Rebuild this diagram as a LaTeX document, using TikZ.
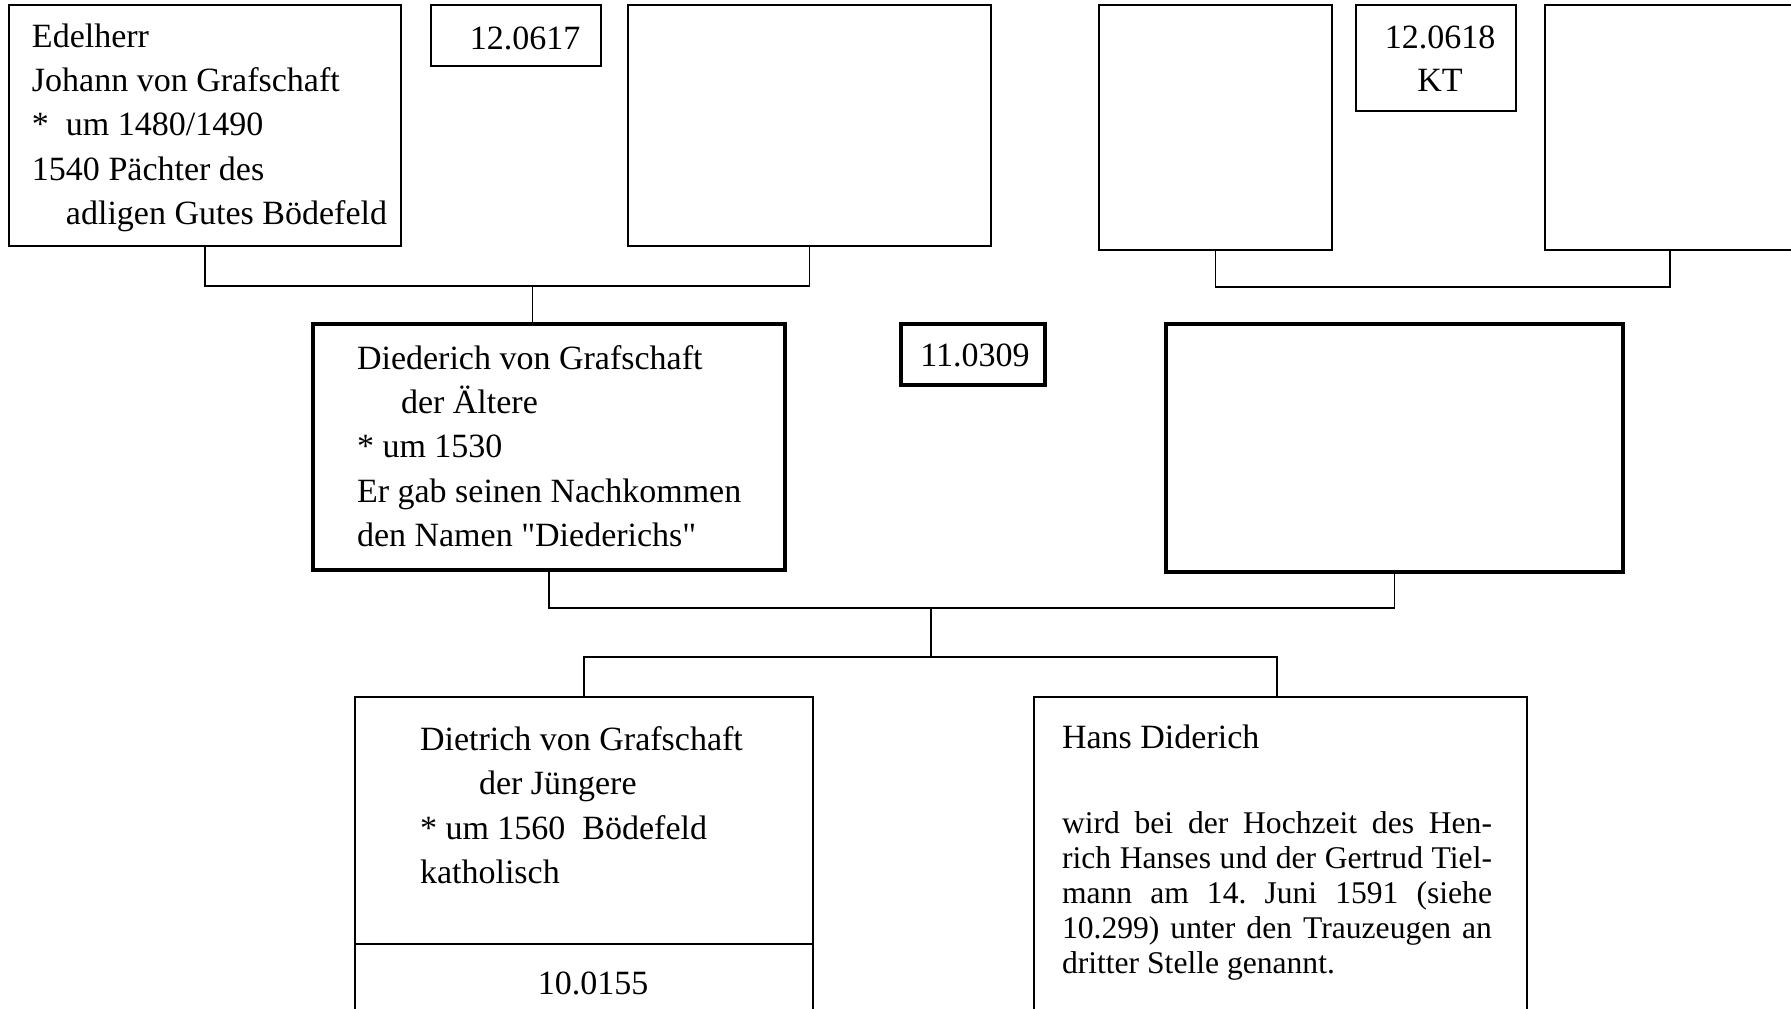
\documentclass[tikz,border=0pt]{standalone}
\usepackage{fontspec}
\setmainfont{Liberation Serif}[Ligatures=TeXOff]
\frenchspacing
\begin{document}
\begin{tikzpicture}[x=0.5pt,y=-0.5pt,
  box/.style={draw,line width=0.8pt,inner sep=0pt,outer sep=0pt},
  thickbox/.style={draw,line width=2pt,inner sep=0pt,outer sep=0pt},
  link/.style={line width=0.8pt},
  txt/.style={inner sep=0pt,outer sep=0pt,anchor=base west,align=left,font=\fontsize{17}{22.15}\selectfont},
  num/.style={inner sep=0pt,outer sep=0pt,anchor=base,align=center,font=\fontsize{17}{21.7}\selectfont},
  note/.style={inner sep=0pt,outer sep=0pt,anchor=base west,align=left,font=\fontsize{15.8}{17.5}\selectfont}]
\useasboundingbox (0,0) rectangle (1791,1008);
\clip (0,0) rectangle (1791,1008);

% generation of the grandparents
\node[box,minimum width=196pt,minimum height=120.5pt] (A) at (205,125.5) {};
\node[box,minimum width=85pt,minimum height=30.5pt] (nA) at (516,35.5) {};
\node[box,minimum width=181.5pt,minimum height=120.5pt] (C) at (809.5,125.5) {};
\node[box,minimum width=116.5pt,minimum height=122.5pt] (D) at (1215.5,127.5) {};
\node[box,minimum width=80pt,minimum height=53pt] (nD) at (1436,58) {};
\node[box,minimum width=177.5pt,minimum height=122.5pt] (E) at (1722.5,127.5) {};

% multi-line texts are placed by the baseline of their last line
\node[txt] (tA) at (32,224.5) {Edelherr\\Johann von Grafschaft\\\makebox[17pt][l]{*}um 1480/1490\\1540 Pächter des\\\hspace*{17pt}adligen Gutes Bödefeld};
\node[num] (tnA) at (525,49.5) {12.0617};
\node[num] (tnD) at (1440,91.7) {12.0618\\KT};

% generation of the parents
\node[thickbox,minimum width=236pt,minimum height=123pt] (B) at (549,447) {};
\node[thickbox,minimum width=72pt,minimum height=30.5pt] (nB) at (973,354.5) {};
\node[thickbox,minimum width=228.5pt,minimum height=124pt] (F) at (1394.5,448) {};

\node[txt] (tB) at (357,546.5) {Diederich von Grafschaft\\\hspace*{22pt}der Ältere\\* um 1530\\Er gab seinen Nachkommen\\den Namen "Diederichs"};
\node[num] (tnB) at (975,366.7) {11.0309};

% generation of the children
\node[box,minimum width=229pt,minimum height=201.5pt] (G) at (584,898.5) {};
\node[box,minimum width=246.5pt,minimum height=201.5pt] (H) at (1280.5,898.5) {};
\coordinate (div) at (0,944);
\draw[link] (G.west |- div) -- (G.east |- div);

\node[txt] (tG) at (420,883.5) {Dietrich von Grafschaft\\\hspace*{29.5pt}der Jüngere\\* um 1560\ \ Bödefeld\\katholisch};
\node[num] (tnG) at (593,994) {10.0155};
\node[txt] (tH) at (1062,748.5) {Hans Diderich};
\node[note] (tH2) at (1062,973) {%
  \makebox[215pt][s]{wird bei der Hochzeit des Hen-}\\
  \makebox[215pt][s]{rich Hanses und der Gertrud Tiel-}\\
  \makebox[215pt][s]{mann am 14. Juni 1591 (siehe}\\
  \makebox[215pt][s]{10.299) unter den Trauzeugen an}\\
  dritter Stelle genannt.};

% family connectors
\coordinate (acbar) at (532.5,286);
\draw[link] (A.south) |- (acbar) -| (C.south);
\draw[link] (acbar) -- (acbar |- B.north);

\coordinate (debar) at (1670,287);
\draw[link] (D.south) |- (debar) -- (debar |- E.south);

\coordinate (bfmid) at (931,608);
\coordinate (ghmid) at (931,657);
\coordinate (hlink) at (1277,697);
\draw[link] (B.south) |- (bfmid) -| (F.south);
\draw[link] (bfmid) -- (ghmid);
\draw[link] (G.north) |- (ghmid) -| (hlink |- H.north);
\end{tikzpicture}
\end{document}
